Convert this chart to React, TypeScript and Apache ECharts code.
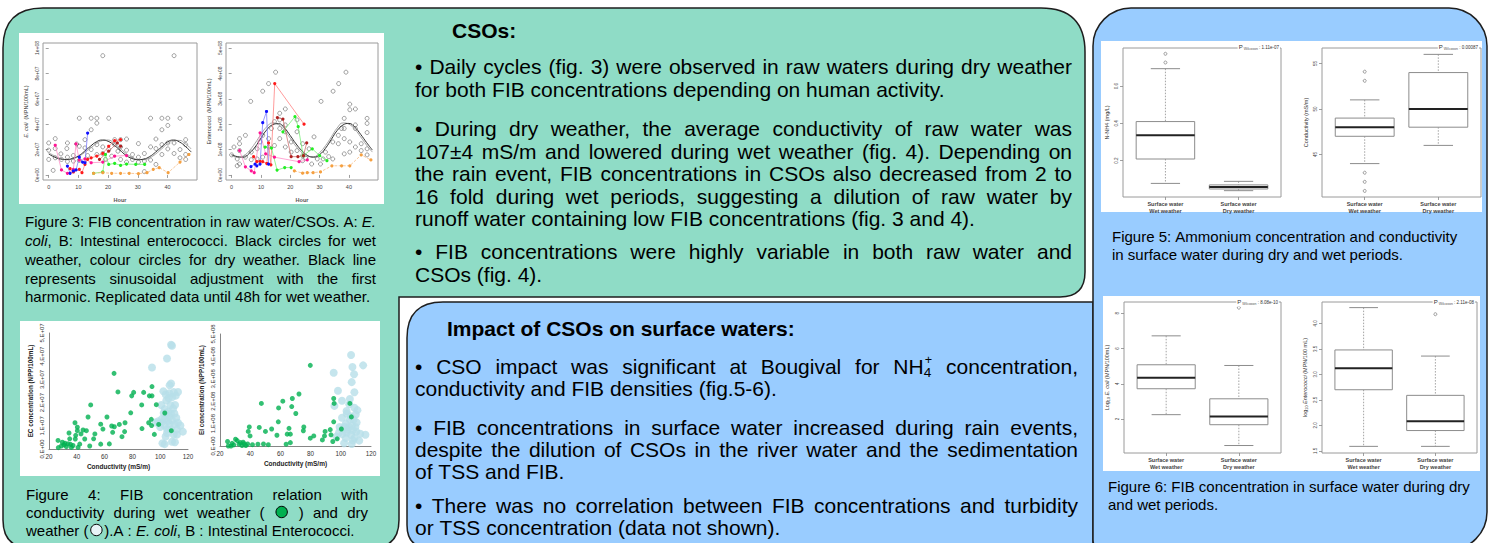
import React, { useEffect, useRef } from 'react';
import * as echarts from 'echarts';

const FONT = '"Liberation Sans", Arial, Helvetica, sans-serif';
const GREEN = '#8FDCC6';
const BLUE = '#99CCFF';

// ---------------- Figure 3 (R plots) ----------------
const HOUR_TICKS = [0, 10, 20, 30, 40];
const EC_TICKS = [0, 2e7, 4e7, 6e7, 8e7, 1e8];
const EC_TICK_LABELS = ['0e+00', '2e+07', '4e+07', '6e+07', '8e+07', '1e+08'];
const ENT_TICKS = [0, 1e8, 2e8, 3e8, 4e8, 5e8];
const ENT_TICK_LABELS = ['0e+00', '1e+08', '2e+08', '3e+08', '4e+08', '5e+08'];

const EC_WET = [
  [0, 2.52e7], [0, 1.95e7], [0, 1.22e7], [1.5, 0.36e7], [2.2, 2.86e7], [2.2, 2.08e7], [2.2, 1.35e7], [4.1, 1.66e7], [4.3, 1.22e7],
  [6.1, 2.08e7], [6.3, 2.52e7], [6.3, 1.4e7], [6.3, 1.06e7], [8.3, 1.53e7], [8.3, 1.09e7], [9.4, 2.44e7], [10.3, 4.47e7], [10.3, 2.26e7],
  [10.3, 1.14e7], [12.2, 2.78e7], [12.2, 2.13e7], [13.1, 1.53e7], [14.3, 4.47e7], [14.3, 3.56e7], [14.3, 2.0e7], [16.2, 4.47e7],
  [16.2, 4.08e7], [16.2, 2.39e7], [16.2, 1.61e7], [18.2, 9.4e7], [18.2, 2.21e7], [18.2, 1.69e7], [19.1, 1.22e7], [20.2, 4.47e7],
  [20.2, 2.0e7], [21.2, 1.48e7], [22.2, 2.78e7], [22.2, 2.39e7], [23.3, 1.87e7], [24.2, 2.78e7], [24.2, 2.21e7], [24.2, 1.22e7],
  [26.2, 2.83e7], [26.2, 1.95e7], [26.2, 1.01e7], [28.2, 1.61e7], [28.2, 1.22e7], [30.2, 2.47e7], [30.2, 1.4e7], [30.2, 1.01e7],
  [32.2, 1.69e7], [32.2, 1.09e7], [32.2, 0.26e7], [34.3, 4.47e7], [34.3, 2.21e7], [34.3, 1.17e7], [36.1, 2.83e7], [36.1, 2.08e7],
  [36.1, 0.83e7], [38.1, 4.47e7], [38.1, 3.56e7], [38.1, 2.39e7], [38.1, 1.61e7], [40.1, 4.47e7], [40.1, 3.9e7], [40.1, 2.52e7],
  [40.1, 2.05e7], [42.2, 9.4e7], [42.2, 2.52e7], [42.2, 1.69e7], [44.2, 4.47e7], [44.2, 2.0e7], [44.2, 1.35e7], [46.1, 2.78e7],
  [46.1, 2.39e7], [46.1, 1.61e7], [46.1, 1.22e7],
];
const FIT_HOURS = [0, 2, 4, 6, 8, 10, 12, 14, 16, 18, 20, 22, 24, 26, 28, 30, 32, 34, 36, 38, 40, 42, 44, 46, 48];
const EC_FIT_1 = [1.65e7, 1.4e7, 1.25e7, 1.22e7, 1.3e7, 1.5e7, 1.85e7, 2.25e7, 2.6e7, 2.75e7, 2.65e7, 2.35e7, 1.95e7, 1.55e7, 1.3e7, 1.2e7, 1.25e7, 1.45e7, 1.8e7, 2.2e7, 2.6e7, 2.75e7, 2.6e7, 2.25e7, 1.8e7];
const EC_FIT_2 = [1.75e7, 1.5e7, 1.3e7, 1.2e7, 1.25e7, 1.45e7, 1.75e7, 2.1e7, 2.45e7, 2.7e7, 2.75e7, 2.5e7, 2.1e7, 1.7e7, 1.4e7, 1.22e7, 1.2e7, 1.35e7, 1.65e7, 2.05e7, 2.45e7, 2.7e7, 2.72e7, 2.45e7, 2.05e7];
const EC_DRY_BLUE = [[6.3, 0.7e7], [7.2, 0.13e7], [8.3, 0.31e7], [9.2, 0.39e7], [10.3, 1.4e7], [11.4, 1.01e7], [12.2, 0.96e7], [13.1, 3.3e7]];
const EC_DRY_RED = [[7.2, 0.49e7], [8.3, 0.23e7], [10.3, 0.44e7], [11.2, 0.18e7], [12.2, 0.83e7], [13.1, 1.22e7], [14.3, 1.35e7], [16.2, 1.48e7], [18.2, 1.69e7], [20.2, 2.26e7], [22.2, 2.7e7], [24.2, 2.78e7]];
const EC_DRY_MAGENTA = [[2.2, 2.34e7], [4.3, 0.39e7], [6.3, 0.13e7], [8.3, 0.44e7], [9.2, 2.44e7], [10.3, 1.17e7], [12.2, 1.27e7], [14.3, 0.96e7], [18.2, 1.01e7], [22.2, 1.48e7], [26.2, 1.53e7]];
const EC_DRY_GREEN = [[15.1, 0.13e7], [18.2, 0.23e7], [19.1, 1.61e7], [20.2, 0.83e7], [22.2, 0.91e7], [24.2, 0.75e7], [26.2, 0.86e7], [29.3, 0.83e7], [32.3, 0.83e7]];
const EC_DRY_ORANGE = [[15.1, 0.13e7], [18.2, 0.18e7], [21.2, 0.13e7], [24.2, 0.13e7], [27.1, 0.13e7], [30.2, 0.1e7], [33.1, 0.18e7], [35.2, 0.44e7], [37.2, 0.57e7], [40.2, 0.18e7], [44.2, 1.01e7], [47.2, 1.61e7]];
const EC_DRY_DARKRED = [[17.1, 1.22e7], [20.2, 1.87e7], [23.1, 2.52e7], [24.2, 2.26e7]];

const ENT_WET = [
  [0, 0.79e8], [0.8, 1.1e8], [1.9, 0.63e8], [1.9, 0.36e8], [2.7, 1.43e8], [2.7, 1.23e8], [2.7, 0.96e8], [2.7, 0.43e8], [4.7, 1.56e8],
  [4.7, 0.7e8], [6.5, 2.9e8], [6.7, 0.9e8], [6.7, 0.6e8], [8.7, 1.03e8], [8.7, 0.63e8], [9.7, 1.3e8], [10.6, 3.3e8], [10.6, 1.56e8],
  [10.6, 0.7e8], [12.6, 3.6e8], [12.6, 1.43e8], [12.6, 1.1e8], [13.6, 1.83e8], [14.6, 2.1e8], [14.6, 1.16e8], [15, 4.05e8],
  [16.4, 2.43e8], [16.4, 2.17e8], [16.4, 1.83e8], [16.4, 1.43e8], [18.3, 2.6e8], [18.3, 1.97e8], [18.3, 1.7e8], [18.3, 1.1e8],
  [20.3, 1.3e8], [20.3, 0.9e8], [22.3, 2.17e8], [22.3, 1.7e8], [22.3, 0.96e8], [24.2, 1.23e8], [24.2, 0.76e8], [24.2, 0.56e8],
  [25.3, 0.66e8], [26.4, 1.03e8], [27.3, 0.43e8], [28.1, 1.5e8], [29.2, 0.63e8], [30.3, 0.43e8], [30.5, 2.9e8], [31.2, 0.63e8],
  [32, 0.9e8], [33.1, 0.72e8], [34.6, 3.3e8], [34.5, 1.3e8], [34.5, 0.63e8], [36.5, 3.6e8], [36.4, 1.56e8], [36.4, 1.23e8],
  [37.5, 1.83e8], [39, 4.05e8], [38.4, 2.23e8], [38.4, 1.83e8], [38.4, 1.43e8], [38.4, 0.83e8], [40.3, 2.79e8], [40.3, 2.57e8],
  [40.3, 1.3e8], [40.3, 0.9e8], [42.2, 2.6e8], [42.2, 1.97e8], [42.2, 1.83e8], [42.2, 1.1e8], [44.2, 1.23e8], [44.2, 0.96e8],
  [46.2, 2.23e8], [46.2, 2.03e8], [46.2, 1.67e8], [46.2, 1.03e8], [46.2, 0.79e8],
];
const ENT_FIT_1 = [0.8e8, 0.72e8, 0.7e8, 0.85e8, 1.1e8, 1.45e8, 1.78e8, 1.98e8, 2.02e8, 1.85e8, 1.55e8, 1.22e8, 0.95e8, 0.76e8, 0.7e8, 0.8e8, 1.05e8, 1.4e8, 1.75e8, 1.97e8, 2.03e8, 1.88e8, 1.6e8, 1.28e8, 0.98e8];
const ENT_FIT_2 = [0.75e8, 0.7e8, 0.75e8, 0.95e8, 1.25e8, 1.6e8, 1.9e8, 2.05e8, 1.98e8, 1.75e8, 1.45e8, 1.12e8, 0.88e8, 0.72e8, 0.72e8, 0.88e8, 1.15e8, 1.5e8, 1.85e8, 2.05e8, 2.0e8, 1.8e8, 1.5e8, 1.18e8, 0.9e8];
const ENT_DRY_BLUE = [[6.6, 0.33e8], [8.0, 0.43e8], [8.6, 0.36e8], [9.7, 0.43e8], [10.6, 2.06e8], [11.9, 2.5e8], [12.6, 0.43e8]];
const ENT_DRY_RED = [[7.5, 0.72e8], [8.6, 0.52e8], [9.7, 0.53e8], [10.6, 0.52e8], [12.0, 0.45e8], [12.6, 1.26e8], [13.4, 0.4e8], [14.7, 3.6e8], [24.7, 2.0e8]];
const ENT_DRY_DARKRED = [[15.6, 2.26e8], [17.5, 2.2e8], [20.3, 0.72e8], [22.6, 0.72e8], [24.5, 0.76e8], [25.6, 1.26e8]];
const ENT_DRY_GREEN = [[11.4, 1.1e8], [13.6, 1.06e8], [15.5, 0.19e8], [18.1, 0.29e8], [20.3, 0.29e8]];
const ENT_DRY_GREEN2 = [[17.5, 1.7e8], [21.6, 2.3e8], [22.7, 1.9e8], [24.4, 0.76e8], [27.5, 1.03e8], [30, 0.76e8], [32.5, 0.56e8]];
const ENT_DRY_MAGENTA = [[2.7, 0.96e8], [4.7, 0.32e8], [6.7, 0.16e8], [7.7, 0.09e8], [9.7, 1.66e8], [11.6, 0.83e8], [14.6, 0.7e8], [23, 0.52e8], [25.8, 0.59e8]];
const ENT_DRY_ORANGE = [[21.4, 0.16e8], [24.2, 0.07e8], [25.8, 0.09e8], [27.8, 0.09e8], [30.3, 0.12e8], [34.2, 0.36e8], [37.5, 0.36e8], [40.3, 0.36e8], [44.2, 0.79e8], [47.5, 0.59e8]];

// ---------------- Figure 4 (conductivity scatter) ----------------
const EC_COND_WET = [
  [66.8, 3.26e7], [69.6, 2.46e7], [80.9, 2.44e7], [79.5, 2.29e7], [88.1, 2.44e7], [92.2, 2.29e7], [94.1, 2.29e7], [94.1, 2.69e7],
  [50, 1.9e7], [86.7, 1.9e7], [97.2, 1.91e7], [78.8, 1.56e7], [61.7, 1.38e7], [48.1, 1.38e7], [38.7, 1.13e7], [74.7, 1.13e7],
  [57.2, 1.07e7], [70.6, 1.06e7], [91.7, 1.13e7], [93.6, 1.28e7], [93.8, 1.01e7], [40.4, 0.79e7], [46.9, 0.79e7], [34.4, 0.69e7],
  [43, 0.65e7], [39.2, 0.59e7], [52.1, 0.44e7], [45.7, 0.43e7], [65.1, 0.99e7], [67, 0.96e7], [65.8, 0.72e7], [58.8, 0.86e7],
  [74.4, 0.75e7], [72.5, 0.53e7], [95.8, 0.63e7], [86.9, 0.88e7], [98.9, 1.06e7], [108, 0.79e7], [40.4, 0.94e7], [26.5, 0.37e7],
  [26.7, 0.06e7], [28.9, 0.13e7], [29.6, 0.29e7], [30.8, 0.18e7], [32.5, 0.1e7], [33.7, 0.22e7], [34.9, 0.44e7], [36.1, 0.07e7],
  [37.3, 0.15e7], [38.9, 0.43e7], [40.9, 0.07e7], [42.1, 0.21e7], [49.3, 0.13e7], [57.2, 0.21e7], [63.4, 0.22e7], [31.5, 0.25e7],
  [35.5, 0.2e7], [44.5, 0.82e7], [53, 0.65e7], [103.3, 1.55e7],
];
const EC_COND_DRY = [
  [107.8, 4.49e7], [108.5, 4.45e7], [104.9, 3.9e7], [94.1, 3.51e7], [107.8, 2.82e7], [106.8, 2.75e7], [102.3, 2.49e7], [112.8, 2.46e7],
  [106.5, 2.4e7], [108.7, 2.24e7], [111.2, 2.3e7], [104.4, 2.09e7], [100.8, 1.9e7], [107.4, 1.9e7], [110.7, 1.9e7], [103.2, 1.72e7],
  [104.7, 1.53e7], [107.8, 1.53e7], [110.2, 1.53e7], [106.8, 1.4e7], [103.2, 1.28e7], [105.6, 1.2e7], [108.5, 1.24e7], [98.4, 1.19e7],
  [100.8, 1.13e7], [103.2, 1.01e7], [106.8, 1.06e7], [110.4, 1.06e7], [112.8, 1.13e7], [114.5, 1.01e7], [107.8, 0.84e7], [112.1, 0.84e7],
  [104.9, 0.69e7], [109.7, 0.62e7], [116.3, 0.75e7], [103.9, 0.54e7], [112.1, 0.62e7], [103.2, 0.21e7], [101.6, 0.25e7], [110.6, 0.29e7],
  [108.5, 0.31e7], [96.5, 1.14e7], [101.2, 1.3e7], [105.8, 1.6e7], [109.3, 1.75e7], [104, 2.35e7], [109.8, 2.45e7], [106, 2.2e7],
  [102.5, 1.55e7], [111.6, 1.35e7], [100, 0.95e7], [105, 0.85e7],
];
const ENT_COND_WET = [
  [79.8, 3.6e8], [72.3, 2.32e8], [67.9, 2.12e8], [61.6, 2.0e8], [47.4, 1.9e8], [58.8, 1.7e8], [67.5, 1.76e8], [70.2, 1.45e8],
  [95.3, 2.12e8], [95.6, 1.9e8], [58.6, 1.08e8], [75.5, 0.85e8], [95.3, 1.08e8], [39.4, 0.85e8], [46, 0.83e8], [54.2, 0.76e8],
  [65.7, 0.79e8], [38.7, 0.65e8], [50.1, 0.65e8], [57.7, 0.48e8], [64.5, 0.53e8], [66.6, 0.53e8], [75.2, 0.68e8], [89.6, 0.65e8],
  [93, 0.73e8], [100.4, 0.76e8], [106, 1.9e8], [97.6, 0.32e8], [82.1, 0.45e8], [79.8, 0.35e8], [87.8, 0.27e8], [89.2, 0.45e8],
  [93.5, 0.5e8], [94.7, 0.2e8], [45.1, 0.08e8], [48.8, 0.09e8], [52, 0.06e8], [63.8, 0.08e8], [66.6, 0.15e8], [41.5, 0.06e8],
  [25, 0.2e8], [25.5, 0.0e8], [27.3, 0.0e8], [29.1, 0.05e8], [30.3, 0.3e8], [31.4, 0.24e8], [32.6, 0.08e8], [33.5, 0.15e8],
  [34.6, 0.02e8], [35.3, 0.17e8], [37.1, 0.02e8], [38.3, 0.09e8], [39.9, 0.45e8], [28, 0.12e8], [36, 0.1e8], [107, 1.3e8],
];
const ENT_COND_DRY = [
  [106.8, 4.06e8], [114.8, 3.6e8], [95.3, 3.27e8], [107.7, 3.53e8], [108.8, 3.2e8], [107.2, 2.85e8], [109, 2.4e8], [98.1, 2.47e8],
  [100.8, 2.02e8], [105.6, 1.86e8], [109, 1.71e8], [95.8, 1.79e8], [103.8, 1.56e8], [100.8, 1.26e8], [106.5, 1.33e8], [109.9, 1.41e8],
  [106, 1.18e8], [103.3, 1.0e8], [107.4, 0.91e8], [99.2, 0.85e8], [104.5, 0.73e8], [109.7, 0.85e8], [101, 0.53e8], [106.8, 0.5e8],
  [112.9, 0.55e8], [116.3, 0.5e8], [103.3, 0.35e8], [109, 0.35e8], [102.2, 0.12e8], [107.2, 0.09e8], [112.2, 0.24e8], [97, 0.42e8],
  [98.8, 0.6e8], [110.2, 0.65e8], [105.4, 0.85e8], [102.5, 0.85e8], [108.5, 1.18e8], [110.5, 1.05e8], [104, 0.6e8], [108, 0.7e8],
  [111, 1.6e8], [106, 2.1e8], [108, 0.25e8], [104, 1.45e8],
];

// ---------------- Figures 5 & 6 (boxplots) ----------------
const BOX_CATS = ['Surface water\nWet weather', 'Surface water\nDry weather'];
// [position, lower whisker, Q1, median, Q3, upper whisker]
const NH4_BOX = [[1, 0.078, 0.209, 0.336, 0.41, 0.694], [2, 0.039, 0.048, 0.059, 0.07, 0.089]];
const NH4_OUT = [[1, 0.727], [1, 0.774]];
const COND_BOX = [[1, 44.0, 47.0, 48.0, 49.0, 51.0], [2, 46.0, 48.0, 50.0, 54.0, 56.0]];
const COND_OUT = [[1, 54.1], [1, 53.1], [1, 43.0], [1, 42.0], [1, 41.0]];
const LEC_BOX = [[1, 2.25, 3.72, 4.34, 5.08, 6.72], [2, 0.5, 1.68, 2.15, 3.15, 5.04]];
const LEC_OUT = [[2, 8.32]];
const LENT_BOX = [[1, 1.59, 2.7, 3.12, 3.48, 4.31], [2, 1.59, 1.9, 2.08, 2.59, 3.36]];
const LENT_OUT = [[2, 4.18]];
const P_VALUES = ['1.11e-07', '0.00087', '8.08e-10', '2.11e-08'];

// ---------------- Texts ----------------
const CSO_TITLE = 'CSOs:';
const CSO_LINES: [string, number, boolean][] = [
  ['• Daily cycles (fig. 3) were observed in raw waters during dry weather', 66, true],
  ['for both FIB concentrations depending on human activity.', 89, false],
  ['• During dry weather, the average conductivity of raw water was', 128, true],
  ['107±4 mS/m and lowered during wet weather (fig. 4). Depending on', 151, true],
  ['the rain event, FIB concentrations in CSOs also decreased from 2 to', 173, true],
  ['16 fold during wet periods, suggesting a dilution of raw water by', 196, true],
  ['runoff water containing low FIB concentrations (fig. 3 and 4).', 218, false],
  ['• FIB concentrations were highly variable in both raw water and', 251, true],
  ['CSOs (fig. 4).', 274, false],
];
const IMPACT_TITLE = 'Impact of CSOs on surface waters:';
const IMPACT_LINES: [string, number, boolean][] = [
  ['• CSO impact was significant at Bougival for {NH4} concentration,', 366, true],
  ['conductivity and FIB densities (fig.5-6).', 388, false],
  ['• FIB concentrations in surface water increased during rain events,', 427, true],
  ['despite the dilution of CSOs in the river water and the sedimentation', 449, true],
  ['of TSS and FIB.', 471, false],
  ['• There was no correlation between FIB concentrations and turbidity', 505, true],
  ['or TSS concentration (data not shown).', 527, false],
];
const FIG3_CAPTION: [string, number, boolean][] = [
  ['Figure 3: FIB concentration in raw water/CSOs. A: *E.*', 221, true],
  ['*coli*, B: Intestinal enterococci. Black circles for wet', 240, true],
  ['weather, colour circles for dry weather. Black line', 259, true],
  ['represents sinusoidal adjustment with the first', 278, true],
  ['harmonic. Replicated data until 48h for wet weather.', 296, false],
];
const FIG4_CAPTION: [string, number, boolean][] = [
  ['Figure 4: FIB concentration relation with', 494, true],
  ['conductivity during wet weather ( {G} ) and dry', 512, true],
  ['weather ({O}).A : *E. coli*, B : Intestinal Enterococci.', 530, false],
];
const FIG5_CAPTION: [string, number, boolean][] = [
  ['Figure 5: Ammonium concentration and conductivity', 236, false],
  ['in surface water during dry and wet periods.', 254, false],
];
const FIG6_CAPTION: [string, number, boolean][] = [
  ['Figure 6: FIB concentration in surface water during dry', 486, false],
  ['and wet periods.', 504, false],
];

// ---------------- panels ----------------
const GREEN_D = 'M3 48 Q3 8 43 8 L1041 8 Q1085 8 1085 52 L1085 272 Q1085 297 1060 297 L399 297 L399 520 Q399 548 371 548 L31 548 Q3 548 3 520 Z';
const BLUE_MID_D = 'M407 338 Q407 302 443 302 L1093 302 L1093 548 L430 548 Q407 548 407 525 Z';
echarts.graphic.registerShape('greenPanel', echarts.graphic.extendPath(GREEN_D, {}));
echarts.graphic.registerShape('blueMidPanel', echarts.graphic.extendPath(BLUE_MID_D, {}));

let mctx: CanvasRenderingContext2D | null = null;
function tw(s: string, size: number, italic = false, bold = false) {
  if (!mctx) mctx = document.createElement('canvas').getContext('2d');
  mctx!.font = `${italic ? 'italic ' : ''}${bold ? 'bold ' : ''}${size}px ${FONT}`;
  return mctx!.measureText(s).width;
}

function textEl(x: number, y: number, s: string, size: number, italic = false, bold = false, align = 'left'): any {
  return {
    type: 'text', x, y, z: 10, silent: true,
    style: {
      text: s, fontSize: size, fontFamily: FONT, fontStyle: italic ? 'italic' : 'normal',
      fontWeight: bold ? 'bold' : 'normal', fill: '#000', textAlign: align, textVerticalAlign: 'middle',
    },
  };
}

function layoutLine(line: string, x: number, y: number, right: number, justify: boolean, size: number, bold = false): any[] {
  const words = line.split(' ').filter(Boolean);
  let it = false;
  const wsegs = words.map((w) => {
    const parts = w.split(/(\*|\{G\}|\{O\}|\{NH4\})/).filter((p) => p !== '');
    const segs: any[] = [];
    for (const p of parts) {
      if (p === '*') { it = !it; continue; }
      if (p === '{G}') segs.push({ kind: 'c', fill: '#00B050' });
      else if (p === '{O}') segs.push({ kind: 'c', fill: '#E8F4F7' });
      else if (p === '{NH4}') segs.push({ kind: 'nh4' });
      else segs.push({ kind: 't', s: p, it });
    }
    return segs;
  });
  const segW = (g: any) => g.kind === 't' ? tw(g.s, size, g.it, bold) : g.kind === 'c' ? size * 1.05 : tw('NH', size) + tw('4', size * 0.65) + 1;
  const wordW = wsegs.map((s) => s.reduce((a: number, g: any) => a + segW(g), 0));
  const total = wordW.reduce((a, b) => a + b, 0);
  const space = tw(' ', size, false, bold);
  const gap = justify && words.length > 1 ? (right - x - total) / (words.length - 1) : space;
  const els: any[] = [];
  let cx = x;
  wsegs.forEach((segs) => {
    for (const g of segs) {
      const w = segW(g);
      if (g.kind === 't') els.push(textEl(cx, y, g.s, size, g.it, bold));
      else if (g.kind === 'c') els.push({ type: 'circle', z: 10, silent: true, shape: { cx: cx + w / 2, cy: y, r: size * 0.38 }, style: { fill: g.fill, stroke: '#000', lineWidth: 1 } });
      else {
        const w1 = tw('NH', size);
        els.push(textEl(cx, y, 'NH', size));
        els.push(textEl(cx + w1, y + size * 0.3, '4', size * 0.65));
        els.push(textEl(cx + w1 + 1, y - size * 0.3, '+', size * 0.6));
      }
      cx += w;
    }
    cx += gap;
  });
  return els;
}

function paragraph(lines: [string, number, boolean][], x: number, right: number, size: number) {
  return lines.flatMap(([t, y, j]) => layoutLine(t, x, y, right, j, size));
}

// ---------------- axes helpers ----------------
const fmt = (ticks: number[], labels: string[]) => (v: number) => {
  const i = ticks.findIndex((t) => Math.abs(t - v) < 1e-9 * Math.max(1, Math.abs(t)));
  return i >= 0 ? labels[i] : '';
};
const excelFmt = (v: number) => {
  if (v === 0) return '0,E+00';
  const e = Math.floor(Math.log10(v) + 1e-9);
  const m = Math.round((v / Math.pow(10, e)) * 10) / 10;
  return `${m},E+${e < 10 ? '0' + e : e}`;
};

function rX(gi: number, min: number, max: number, ticks: number[], labels: string[] | null, name: string, nameGap = 17, bold = false) {
  return {
    gridIndex: gi, type: 'value', min, max, name, nameLocation: 'middle', nameGap, nameMoveOverlap: false,
    nameTextStyle: { fontSize: 5.5, fontWeight: 'bold', color: '#555', fontFamily: FONT },
    axisLine: { show: false }, splitLine: { show: false },
    axisTick: { show: true, length: 3, lineStyle: { color: '#888', width: 0.8 }, customValues: ticks },
    axisLabel: {
      fontSize: 5.5, color: '#444', margin: 4, fontFamily: FONT, customValues: ticks, lineHeight: 6.5,
      fontWeight: bold ? 'bold' : 'normal',
      formatter: labels ? fmt(ticks, labels) : (v: number) => String(v),
    },
  };
}
function rY(gi: number, min: number, max: number, ticks: number[], labels: string[] | null, name: string, nameGap: number, rich: any = {}, fs = 5) {
  return {
    gridIndex: gi, type: 'value', min, max, name, nameLocation: 'middle', nameGap, nameRotate: 90, nameMoveOverlap: false,
    nameTextStyle: { fontSize: 5.5, color: '#333', fontFamily: FONT, rich },
    axisLine: { show: false }, splitLine: { show: false },
    axisTick: { show: true, length: 3, lineStyle: { color: '#888', width: 0.8 }, customValues: ticks },
    axisLabel: {
      fontSize: fs, color: '#444', margin: 4, rotate: 90, fontFamily: FONT, customValues: ticks,
      formatter: labels ? fmt(ticks, labels) : (v: number) => String(v),
    },
  };
}
function xlX(gi: number) {
  return {
    gridIndex: gi, type: 'value', min: 20, max: 120, interval: 20, name: 'Conductivity (mS/m)', nameLocation: 'middle', nameGap: 14,
    nameMoveOverlap: false,
    nameTextStyle: { fontSize: 6.5, fontWeight: 'bold', color: '#222', fontFamily: FONT },
    axisLine: { show: true, lineStyle: { color: '#868686', width: 1 } }, axisTick: { show: false }, splitLine: { show: false },
    axisLabel: { fontSize: 6.3, color: '#333', margin: 4, fontFamily: FONT },
  };
}
function xlY(gi: number, max: number, interval: number, name: string) {
  return {
    gridIndex: gi, type: 'value', min: 0, max, interval, name, nameLocation: 'middle', nameGap: 16, nameRotate: 90,
    nameMoveOverlap: false,
    nameTextStyle: { fontSize: 6.3, fontWeight: 'bold', color: '#222', fontFamily: FONT },
    axisLine: { show: true, lineStyle: { color: '#868686', width: 1 } }, axisTick: { show: false }, splitLine: { show: false },
    axisLabel: { fontSize: 6, color: '#333', margin: 4, rotate: 90, fontFamily: FONT, formatter: excelFmt },
  };
}

function boxSeries(idx: number, data: number[][]) {
  return {
    type: 'custom', xAxisIndex: idx, yAxisIndex: idx, data, encode: { x: 0, y: [1, 2, 3, 4, 5] }, silent: true,
    renderItem: (params: any, api: any) => {
      const x = api.value(0);
      const p = (k: number) => api.coord([x, api.value(k)]);
      const lo = p(1), q1 = p(2), md = p(3), q3 = p(4), hi = p(5);
      const hw = api.size([0.8, 0])[0] / 2;
      const cx = lo[0];
      const gray = '#8c8c8c';
      const dash = { stroke: gray, lineWidth: 0.8, lineDash: [1.5, 1.5] };
      return {
        type: 'group', children: [
          { type: 'line', shape: { x1: cx, y1: hi[1], x2: cx, y2: q3[1] }, style: dash },
          { type: 'line', shape: { x1: cx, y1: q1[1], x2: cx, y2: lo[1] }, style: dash },
          { type: 'line', shape: { x1: cx - hw / 2, y1: hi[1], x2: cx + hw / 2, y2: hi[1] }, style: { stroke: gray, lineWidth: 1 } },
          { type: 'line', shape: { x1: cx - hw / 2, y1: lo[1], x2: cx + hw / 2, y2: lo[1] }, style: { stroke: gray, lineWidth: 1 } },
          { type: 'rect', shape: { x: cx - hw, y: q3[1], width: 2 * hw, height: q1[1] - q3[1] }, style: { fill: '#fff', stroke: gray, lineWidth: 1 } },
          { type: 'line', shape: { x1: cx - hw, y1: md[1], x2: cx + hw, y2: md[1] }, style: { stroke: '#222', lineWidth: 2 } },
        ],
      };
    },
  };
}
function outSeries(idx: number, data: number[][]) {
  return {
    type: 'scatter', xAxisIndex: idx, yAxisIndex: idx, data, symbol: 'circle', symbolSize: 3, silent: true,
    itemStyle: { color: 'rgba(0,0,0,0)', borderColor: '#555', borderWidth: 0.7 },
  };
}
function wetSeries(idx: number, data: number[][]) {
  return {
    type: 'scatter', xAxisIndex: idx, yAxisIndex: idx, data, symbol: 'circle', symbolSize: 4, silent: true,
    itemStyle: { color: 'rgba(0,0,0,0)', borderColor: '#3c3c3c', borderWidth: 0.6 },
  };
}
function fitSeries(idx: number, vals: number[], color: string, width: number, dashed = false) {
  return {
    type: 'line', xAxisIndex: idx, yAxisIndex: idx, data: FIT_HOURS.map((h, i) => [h, vals[i]]), smooth: true,
    showSymbol: false, silent: true, lineStyle: { color, width, type: dashed ? 'dashed' : 'solid' },
  };
}
function drySeries(idx: number, data: number[][], color: string, lineColor: string, dashed = false) {
  return {
    type: 'line', xAxisIndex: idx, yAxisIndex: idx, data, symbol: 'circle', symbolSize: 3.2, silent: true,
    itemStyle: { color }, lineStyle: { color: lineColor, width: 0.7, type: dashed ? 'dashed' : 'solid' },
  };
}
function pText(xRight: number, y: number, val: string) {
  return {
    type: 'text', x: xRight, y, z: 12, silent: true,
    style: {
      text: `{p|P}{s| Wilcoxon}{t| : ${val}}`, textAlign: 'right', textVerticalAlign: 'middle', fill: '#333',
      backgroundColor: '#fff', padding: [1, 1], fontFamily: FONT,
      rich: {
        p: { fontSize: 6, fill: '#333', fontFamily: FONT },
        s: { fontSize: 3.5, fill: '#555', fontFamily: FONT, padding: [3, 0, 0, 0] },
        t: { fontSize: 4.5, fill: '#333', fontFamily: FONT },
      },
    },
  };
}

function buildOption(): any {
  const gridR = { show: true, borderColor: '#9a9a9a', borderWidth: 1, backgroundColor: 'rgba(0,0,0,0)', outerBoundsMode: 'none', containLabel: false };
  const gridX = { show: false, outerBoundsMode: 'none', containLabel: false };
  const grid = [
    { ...gridR, left: 43, top: 43, width: 154, height: 137 },
    { ...gridR, left: 226, top: 43, width: 152, height: 137 },
    { ...gridX, left: 49, top: 333, width: 139, height: 116 },
    { ...gridX, left: 220, top: 334, width: 151, height: 112 },
    { ...gridR, left: 1123, top: 48, width: 158, height: 149 },
    { ...gridR, left: 1322, top: 48, width: 159, height: 149 },
    { ...gridR, left: 1124, top: 302, width: 157, height: 151 },
    { ...gridR, left: 1322, top: 302, width: 155, height: 151 },
  ];
  const boxLabels = BOX_CATS;
  const xAxis = [
    rX(0, -1.92, 49.92, HOUR_TICKS, null, 'Hour'),
    rX(1, -1.92, 49.92, HOUR_TICKS, null, 'Hour'),
    xlX(2),
    xlX(3),
    rX(4, 0.42, 2.58, [1, 2], boxLabels, '', 17, true),
    rX(5, 0.42, 2.58, [1, 2], boxLabels, '', 17, true),
    rX(6, 0.42, 2.58, [1, 2], boxLabels, '', 17, true),
    rX(7, 0.42, 2.58, [1, 2], boxLabels, '', 17, true),
  ];
  const richI = { i: { fontStyle: 'italic', fontSize: 5.5, color: '#333', fontFamily: FONT }, s: { fontSize: 3.8, color: '#333', fontFamily: FONT, padding: [4, 0, 0, 0] } };
  const yAxis = [
    rY(0, -4e6, 1.04e8, EC_TICKS, EC_TICK_LABELS, '{i|E. coli}  (MPN/100mL)', 14, richI),
    rY(1, -2e7, 5.2e8, ENT_TICKS, ENT_TICK_LABELS, 'Enterococci  (MPN/100mL)', 14, richI),
    xlY(2, 5e7, 1e7, 'EC concentration (NPP/100mL)'),
    xlY(3, 5e8, 1e8, 'EI concentration (NPP/100mL)'),
    rY(4, 0.005, 0.805, [0.2, 0.4, 0.6], null, 'N-NH4 (mg/L)', 13, richI, 4.5),
    rY(5, 40.33, 56.7, [45, 50, 55], null, 'Conductivity (mS/m)', 13, richI, 4.5),
    rY(6, 0.076, 8.64, [2, 4, 6, 8], null, 'Log{s|10} {i|E. coli} (MPN/100mL)', 13, richI, 4.5),
    rY(7, 1.46, 4.42, [1.5, 2, 2.5, 3, 3.5, 4], ['1.5', '2.0', '2.5', '3.0', '3.5', '4.0'], 'log{s|10} {i|Enterococci} (MPN/100 mL)', 13, richI, 4.5),
  ];
  const series = [
    wetSeries(0, EC_WET),
    fitSeries(0, EC_FIT_2, '#9a9a9a', 0.9),
    fitSeries(0, EC_FIT_1, '#333', 1),
    drySeries(0, EC_DRY_MAGENTA, '#ff1493', '#ff7fc0'),
    drySeries(0, EC_DRY_GREEN, '#22ee22', '#66ee66'),
    drySeries(0, EC_DRY_ORANGE, '#f5a040', '#f5b070', true),
    drySeries(0, EC_DRY_DARKRED, '#b02020', '#c86060'),
    drySeries(0, EC_DRY_RED, '#ff1a1a', '#ff7070'),
    drySeries(0, EC_DRY_BLUE, '#1010ff', '#6b6bff'),
    wetSeries(1, ENT_WET),
    fitSeries(1, ENT_FIT_2, '#9a9a9a', 0.9),
    fitSeries(1, ENT_FIT_1, '#333', 1),
    drySeries(1, ENT_DRY_MAGENTA, '#ff1493', '#ff7fc0'),
    drySeries(1, ENT_DRY_GREEN, '#22ee22', '#66ee66'),
    drySeries(1, ENT_DRY_GREEN2, '#22ee22', '#66ee66'),
    drySeries(1, ENT_DRY_ORANGE, '#f5a040', '#f5b070', true),
    drySeries(1, ENT_DRY_DARKRED, '#b02020', '#c86060'),
    drySeries(1, ENT_DRY_RED, '#ff1a1a', '#ff7070'),
    drySeries(1, ENT_DRY_BLUE, '#1010ff', '#6b6bff'),
    { type: 'scatter', xAxisIndex: 2, yAxisIndex: 2, data: EC_COND_DRY, symbolSize: 8, silent: true, itemStyle: { color: '#B7DEE8' } },
    { type: 'scatter', xAxisIndex: 2, yAxisIndex: 2, data: EC_COND_WET, symbolSize: 5, silent: true, itemStyle: { color: '#00B050' } },
    { type: 'scatter', xAxisIndex: 3, yAxisIndex: 3, data: ENT_COND_DRY, symbolSize: 8, silent: true, itemStyle: { color: '#B7DEE8' } },
    { type: 'scatter', xAxisIndex: 3, yAxisIndex: 3, data: ENT_COND_WET, symbolSize: 5, silent: true, itemStyle: { color: '#00B050' } },
    boxSeries(4, NH4_BOX), outSeries(4, NH4_OUT),
    boxSeries(5, COND_BOX), outSeries(5, COND_OUT),
    boxSeries(6, LEC_BOX), outSeries(6, LEC_OUT),
    boxSeries(7, LENT_BOX), outSeries(7, LENT_OUT),
  ];

  const stroke = { stroke: '#1e1e1e', lineWidth: 1.5 };
  const graphic: any[] = [
    { type: 'greenPanel', z: -20, silent: true, style: { fill: GREEN, ...stroke } },
    { type: 'blueMidPanel', z: -20, silent: true, style: { fill: BLUE, ...stroke } },
    { type: 'rect', z: -19, silent: true, shape: { x: 1093, y: 8, width: 394, height: 542, r: [38, 38, 38, 10] }, style: { fill: BLUE, ...stroke } },
    { type: 'rect', z: -10, silent: true, shape: { x: 19, y: 33, width: 365, height: 171 }, style: { fill: '#fff' } },
    { type: 'rect', z: -10, silent: true, shape: { x: 20, y: 321, width: 360, height: 155 }, style: { fill: '#fff' } },
    { type: 'rect', z: -10, silent: true, shape: { x: 1101, y: 41, width: 381, height: 171 }, style: { fill: '#fff' } },
    { type: 'rect', z: -10, silent: true, shape: { x: 1103, y: 296, width: 377, height: 175 }, style: { fill: '#fff' } },
    textEl(452, 30, CSO_TITLE, 21, false, true),
    ...paragraph(CSO_LINES, 415, 1072, 21),
    textEl(447, 328, IMPACT_TITLE, 21, false, true),
    ...paragraph(IMPACT_LINES, 415, 1078, 21),
    ...paragraph(FIG3_CAPTION, 25, 376, 15),
    ...paragraph(FIG4_CAPTION, 26, 368, 15),
    ...paragraph(FIG5_CAPTION, 1112, 1460, 15),
    ...paragraph(FIG6_CAPTION, 1108, 1470, 15),
    pText(1280, 47, P_VALUES[0]),
    pText(1479, 47, P_VALUES[1]),
    pText(1279, 302, P_VALUES[2]),
    pText(1475, 302, P_VALUES[3]),
  ];

  return {
    animation: false,
    backgroundColor: '#fff',
    textStyle: { fontFamily: FONT },
    grid, xAxis, yAxis, series, graphic,
  };
}

export default function App() {
  const ref = useRef<HTMLDivElement>(null);
  useEffect(() => {
    if (!ref.current) return;
    const chart = echarts.init(ref.current, null, { renderer: 'svg' });
    chart.setOption(buildOption());
    return () => chart.dispose();
  }, []);
  return <div ref={ref} style={{ position: 'fixed', left: 0, top: 0, width: 1491, height: 543, background: '#fff' }} />;
}
